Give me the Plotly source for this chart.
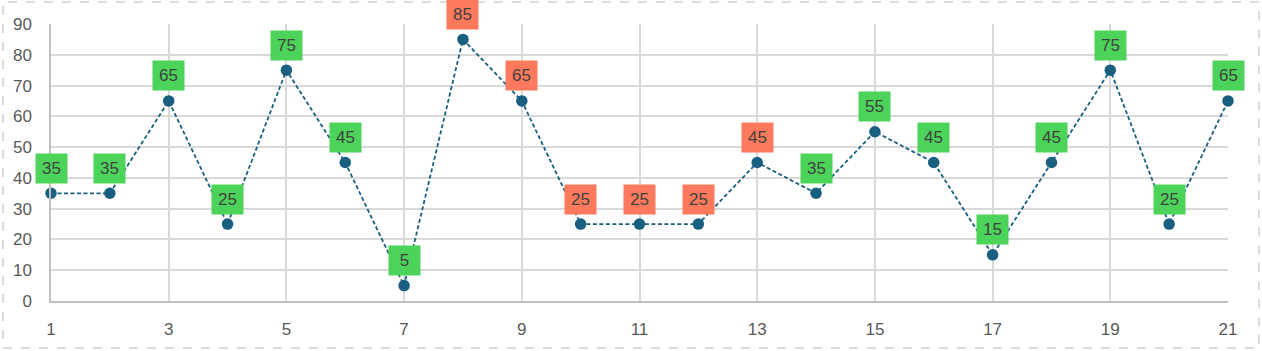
import plotly.graph_objects as go

x_vals = list(range(1, 22))
y_vals = [35, 35, 65, 25, 75, 45, 5, 85, 65, 25, 25, 25, 45, 35, 55, 45, 15, 45, 75, 25, 65]
label_colors = ["#4CD45A"] * 7 + ["#FF7A5C"] * 6 + ["#4CD45A"] * 8
x_ticks = list(range(1, 22, 2))
y_ticks = list(range(0, 91, 10))

fig = go.Figure()
fig.add_trace(go.Scatter(
    x=x_vals, y=y_vals, mode="lines+markers",
    line=dict(color="#185F80", width=1.8, dash="4px,2.5px"),
    marker=dict(color="#185F80", size=11.5),
    hoverinfo="skip", showlegend=False, cliponaxis=False,
))

for xv, yv, c in zip(x_vals, y_vals, label_colors):
    fig.add_annotation(
        x=xv, y=yv, text=str(yv), showarrow=False, yshift=25,
        bgcolor=c, width=31, height=29, borderpad=0,
        font=dict(family="Liberation Sans, Arial, sans-serif", size=17, color="#404040"),
    )

fig.add_shape(
    type="rect", xref="paper", yref="paper",
    x0=-0.0408, x1=1.0263, y0=-0.1697, y1=1.0794,
    line=dict(color="#D0D0D0", width=1.5, dash="dash"),
)

fig.update_layout(
    width=1262, height=351,
    margin=dict(l=51, r=34, t=24, b=50),
    paper_bgcolor="white", plot_bgcolor="white",
    font=dict(family="Liberation Sans, Arial, sans-serif", size=17, color="#595959"),
)
fig.update_xaxes(
    range=[1, 21], tickvals=x_ticks, ticktext=[str(t) for t in x_ticks],
    showgrid=True, gridcolor="#D9D9D9", gridwidth=1.5,
    showline=True, linecolor="#BFBFBF", linewidth=1.5,
    ticks="outside", ticklen=12, tickcolor="rgba(0,0,0,0)", zeroline=False,
)
fig.update_yaxes(
    range=[0, 90], tickvals=y_ticks,
    showgrid=True, gridcolor="#D9D9D9", gridwidth=1.5,
    showline=True, linecolor="#BFBFBF", linewidth=1.5,
    ticks="outside", ticklen=14, tickcolor="rgba(0,0,0,0)", zeroline=False,
)

fig.write_html("out.html")
